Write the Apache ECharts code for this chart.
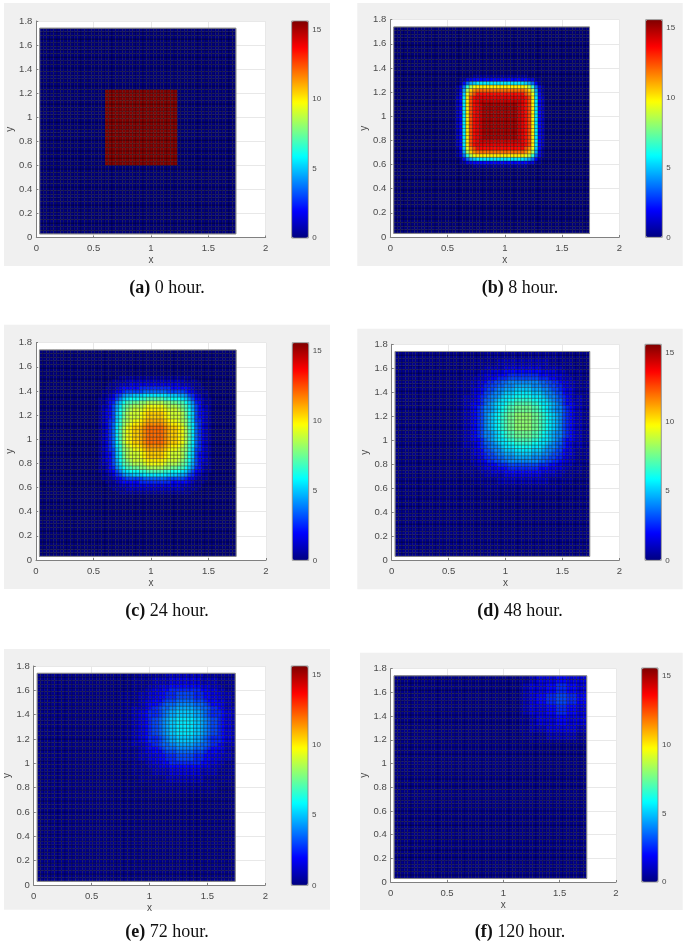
<!DOCTYPE html>
<html>
<head>
<meta charset="utf-8">
<script src="https://cdn.jsdelivr.net/npm/echarts@6/dist/echarts.min.js"></script>
<style>
html, body { margin: 0; padding: 0; background: #fff; }
#main { width: 685px; height: 943px; filter: blur(0.35px); }
</style>
</head>
<body>
<div id="main"></div>
<script>
// mesh: 57 x 57 cells, each 0.03 wide, starting at 0.03
var cellCount = 57;
var cellSize = 0.03;
var meshStart = 0.03;
var colorMax = 15.6;
var jetColors = ['#000080', '#0000ff', '#0080ff', '#00ffff', '#80ff80', '#ffff00', '#ff8000', '#ff0000', '#800000'];

var tags = ['(a)', '(b)', '(c)', '(d)', '(e)', '(f)'];
var hours = ['0 hour.', '8 hour.', '24 hour.', '48 hour.', '72 hour.', '120 hour.'];

// values. one char per cell, base 32, in half units (k = 10, v = 15.5)
// rows go bottom to top, everything outside a patch has the background value
var backgrounds = [0, 0, 0, 0.25, 0.25, 0.25];
var firstCols = [19, 18, 17, 18, 24, 37];
var firstRows = [19, 18, 17, 18, 24, 38];

var rowsA = [
  'vvvvvvvvvvvvvvvvvvvvv', 'vvvvvvvvvvvvvvvvvvvvv', 'vvvvvvvvvvvvvvvvvvvvv', 'vvvvvvvvvvvvvvvvvvvvv',
  'vvvvvvvvvvvvvvvvvvvvv', 'vvvvvvvvvvvvvvvvvvvvv', 'vvvvvvvvvvvvvvvvvvvvv', 'vvvvvvvvvvvvvvvvvvvvv',
  'vvvvvvvvvvvvvvvvvvvvv', 'vvvvvvvvvvvvvvvvvvvvv', 'vvvvvvvvvvvvvvvvvvvvv', 'vvvvvvvvvvvvvvvvvvvvv',
  'vvvvvvvvvvvvvvvvvvvvv', 'vvvvvvvvvvvvvvvvvvvvv', 'vvvvvvvvvvvvvvvvvvvvv', 'vvvvvvvvvvvvvvvvvvvvv',
  'vvvvvvvvvvvvvvvvvvvvv', 'vvvvvvvvvvvvvvvvvvvvv', 'vvvvvvvvvvvvvvvvvvvvv', 'vvvvvvvvvvvvvvvvvvvvv',
  'vvvvvvvvvvvvvvvvvvvvv'
];

var rowsB = [
  '00000111111111111111100000',
  '01133444444444444444433110',
  '01479abbbbbbbbbbbbbba97410',
  '137dhjkkkkkkkkkkkkkkjhd731',
  '139hlnoooooooooooooonlh931',
  '14ajnprrrrrrrrrrrrrrpnja41',
  '24bkprssssssssssssssrpkb42',
  '24bkprsttttttttttttsrpkb42',
  '24bkprstuuuuuuuuuutsrpkb42',
  '24bkprstuuuuuuuuuutsrpkb42',
  '24bkprstuuuuuuuuuutsrpkb42',
  '24bkprstuuuuuuuuuutsrpkb42',
  '24bkprstuuuuuuuuuutsrpkb42',
  '24bkprstuuuuuuuuuutsrpkb42',
  '24bkprstuuuuuuuuuutsrpkb42',
  '24bkprstuuuuuuuuuutsrpkb42',
  '24bkprstuuuuuuuuuutsrpkb42',
  '24bkprstuuuuuuuuuutsrpkb42',
  '24bkprsttttttttttttsrpkb42',
  '24bkprssssssssssssssrpkb42',
  '14ajnprrrrrrrrrrrrrrpnja41',
  '139hlnoooooooooooooonlh931',
  '137dhjkkkkkkkkkkkkkkjhd731',
  '01479abbbbbbbbbbbbbba97410',
  '01133444444444444444433110',
  '00000111111111111111100000'
];

var rowsC = [
  '000000111111111111111111111000000',
  '000011112222222222222222211110000',
  '000111222333333333333333222111000',
  '001112344444555555555444443211100',
  '011123456666677777776666654321110',
  '0112356899aaabbbbbbbaaa9986532110',
  '1123468abcccddeeeeeddcccba8643211',
  '112458aceeffgghhhhhggffeeca854211',
  '122469befghhhijjjjjihhhgfeb964221',
  '123469ceghiiijkkkkkjiiihgec964321',
  '12346acfhiiijklllllkjiiihfca64321',
  '12346acfhiiijklllllkjiiihfca64321',
  '12356adghijjklmmmmmlkjjihgda65321',
  '12357bdgijkklmnnnnnmlkkjigdb75321',
  '12357behjkllmnooooonmllkjheb75321',
  '12357behjkllmnooooonmllkjheb75321',
  '12357behjkllmnooooonmllkjheb75321',
  '12357behjkllmnooooonmllkjheb75321',
  '12357behjkllmnooooonmllkjheb75321',
  '12357bdgijkklmnnnnnmlkkjigdb75321',
  '12356adghijjklmmmmmlkjjihgda65321',
  '12346acfhiiijklllllkjiiihfca64321',
  '12346acfhiiijklllllkjiiihfca64321',
  '123469ceghiiijkkkkkjiiihgec964321',
  '122469befghhhijjjjjihhhgfeb964221',
  '112458aceeffgghhhhhggffeeca854211',
  '1123468abcccddeeeeeddcccba8643211',
  '0112356899aaabbbbbbbaaa9986532110',
  '011123456666677777776666654321110',
  '001112344444555555555444443211100',
  '000111222333333333333333222111000',
  '000011112222222222222222211110000',
  '000000111111111111111111111000000'
];

var rowsD = [
  '000000001111111111111111111111100000000',
  '000000001111111111111111111111100000000',
  '000001111111222222222222222111111100000',
  '000001111111222222222222222111111100000',
  '000011112222223333333333322222211110000',
  '001111122233334444444444433332221111100',
  '001111223333444555555555444333322111100',
  '001112223344555666666666555443322211100',
  '111122334556677888888888776655433221111',
  '111122335566778889999988877665533221111',
  '11112334566788999aaaaa99988766543321111',
  '11112334667889aaabbbbbaaa98876643321111',
  '1122234567889abbbcccccbbba9887654322211',
  '112223457789abbccdddddccbba987754322211',
  '11223445789abbcddeeeeeddcbba98754432211',
  '11223456889abcdeefffffeedcba98865432211',
  '11223456889abcdeefffffeedcba98865432211',
  '1122345689abcdeffgggggffedcba9865432211',
  '1122345689abcdeffgggggffedcba9865432211',
  '1122345689abcdeffgggggffedcba9865432211',
  '1122345689abcdeffgggggffedcba9865432211',
  '1122345689abcdeffgggggffedcba9865432211',
  '11223456889abcdeefffffeedcba98865432211',
  '11223456889abcdeefffffeedcba98865432211',
  '11223445789abbcddeeeeeddcbba98754432211',
  '112223457789abbccdddddccbba987754322211',
  '1122234567889abbbcccccbbba9887654322211',
  '11112334667889aaabbbbbaaa98876643321111',
  '11112334566788999aaaaa99988766543321111',
  '111122335566778889999988877665533221111',
  '111122334556677888888888776655433221111',
  '001112223344555666666666555443322211100',
  '001111223333444555555555444333322111100',
  '001111122233334444444444433332221111100',
  '000011112222223333333333322222211110000',
  '000001111111222222222222222111111100000',
  '000001111111222222222222222111111100000',
  '000000001111111111111111111111100000000',
  '000000001111111111111111111111100000000'
];

var rowsE = [
  '000000000111111111111111111100000',
  '000000000111111111111111111100000',
  '000000000111111111111111111100000',
  '000001111111122222222222111111110',
  '000001111111122222222222111111110',
  '000111111222223333333332222211111',
  '000111111222223333333332222211111',
  '000111112223334444444443332221111',
  '000111122333445555555554433322111',
  '111112223334455566666555443332221',
  '111112223334455566666555443332221',
  '111112233444566677777666544433221',
  '111112234445677788888777654443221',
  '111222234556778899999887765543222',
  '1112233455567899aaaaa998765554332',
  '1112233455567899aaaaa998765554332',
  '11122334566789aabbbbbaa9876654332',
  '11122334566789aabbbbbaa9876654332',
  '11122334566789aabbbbbaa9876654332',
  '11122334566789aabbbbbaa9876654332',
  '11122334566789aabbbbbaa9876654332',
  '1112233455567899aaaaa998765554332',
  '1112233455567899aaaaa998765554332',
  '111222234556778899999887765543222',
  '111112234445677788888777654443221',
  '111112233444566677777666544433221',
  '111112223334455566666555443332221',
  '111112223334455566666555443332221',
  '000111122333445555555554433322111',
  '000111112223334444444443332221111',
  '000111111222223333333332222211111',
  '000111111222223333333332222211111',
  '000001111111122222222222111111110'
];

var rowsF = [
  '00011111111111111111',
  '01111111222222222111',
  '01111111222222222111',
  '11122222333333333222',
  '11122222333333333222',
  '11122333333444333333',
  '11122333333444333333',
  '11122333333444333333',
  '12233333444555444333',
  '12233333444555444333',
  '12233333444555444333',
  '12233444555666555444',
  '12233444555666555444',
  '12233444555666555444',
  '12233333444555444333',
  '12233333444555444333',
  '12233333444555444333',
  '11122333333444333333',
  '11122333333444333333'
];

var allRows = [rowsA, rowsB, rowsC, rowsD, rowsE, rowsF];

// pixel layout of the six figures
var layouts = [
  { plot: [36.3, 21, 229.4, 216.5], bar: [291.7, 21, 16.6, 217], back: [4, 3, 326, 263], cap: [167, 287] },
  { plot: [390.3, 19.7, 229, 217.3], bar: [645.7, 19.7, 16.6, 217.6], back: [357.3, 3, 325.4, 263], cap: [520, 287] },
  { plot: [36, 342.7, 230, 217.3], bar: [292.3, 342.7, 16.4, 217.6], back: [4, 324.7, 326, 264.3], cap: [167, 610.7] },
  { plot: [391.7, 344.3, 227.6, 215.7], bar: [645, 344.3, 16.3, 216], back: [357.3, 328.7, 325.4, 260.6], cap: [520, 610] },
  { plot: [33.7, 666, 231.6, 219], bar: [291.3, 666, 16.7, 219.3], back: [4, 649, 326, 260.7], cap: [167, 931] },
  { plot: [390.7, 668.7, 225.3, 213.3], bar: [641.7, 668, 16.3, 214], back: [360, 652.7, 322.7, 257.3], cap: [520, 931] }
];

function buildCells(i) {
  var rows = allRows[i];
  var out = [];
  for (var r = 0; r < cellCount; r++) {
    var row = rows[r - firstRows[i]];
    for (var c = 0; c < cellCount; c++) {
      var val = backgrounds[i];
      var ch = row ? row[c - firstCols[i]] : undefined;
      if (ch !== undefined) {
        val = Math.max(val, parseInt(ch, 32) / 2);
      }
      out.push([meshStart + c * cellSize, meshStart + r * cellSize, val]);
    }
  }
  return out;
}

function renderCell(params, api) {
  var start = api.coord([api.value(0), api.value(1) + cellSize]);
  var size = api.size([cellSize, cellSize]);
  return {
    type: 'rect',
    shape: { x: start[0], y: start[1], width: size[0], height: size[1] },
    style: { fill: api.visual('color'), stroke: 'rgba(0,0,0,0.6)', lineWidth: 0.5 }
  };
}

function renderFrame(params, api) {
  var a = api.coord([api.value(0), api.value(1)]);
  var b = api.coord([api.value(2), api.value(3)]);
  return {
    type: 'rect',
    shape: { x: a[0], y: b[1], width: b[0] - a[0], height: a[1] - b[1] },
    style: { fill: 'none', stroke: '#8c8c8c', lineWidth: 1 }
  };
}

var meshEnd = meshStart + cellCount * cellSize;
var labelColor = '#4a4a4a';
var labelFont = 'Liberation Sans';

var grids = [], xAxes = [], yAxes = [], series = [], visualMaps = [], titles = [], backs = [];

layouts.forEach(function (lay, i) {
  backs.push({
    type: 'rect', z: -10, silent: true,
    shape: { x: lay.back[0], y: lay.back[1], width: lay.back[2], height: lay.back[3] },
    style: { fill: '#f0f0f0' }
  });

  // main plot
  grids.push({
    left: lay.plot[0], top: lay.plot[1], width: lay.plot[2], height: lay.plot[3],
    show: true, backgroundColor: '#fff', borderWidth: 0
  });
  xAxes.push({
    type: 'value', gridIndex: grids.length - 1, min: 0, max: 2, interval: 0.5,
    name: 'x', nameLocation: 'middle', nameGap: 18,
    nameTextStyle: { color: labelColor, fontFamily: labelFont, fontSize: 10 },
    axisLine: { onZero: false, lineStyle: { color: '#808080' } },
    axisTick: { inside: true, length: 2, lineStyle: { color: '#808080' } },
    axisLabel: { color: labelColor, fontFamily: labelFont, fontSize: 9.5, margin: 6 },
    splitLine: { show: true, lineStyle: { color: '#e8e8e8' } }
  });
  yAxes.push({
    type: 'value', gridIndex: grids.length - 1, min: 0, max: 1.8, interval: 0.2,
    name: 'y', nameLocation: 'middle', nameGap: 17,
    nameTextStyle: { color: labelColor, fontFamily: labelFont, fontSize: 10 },
    axisLine: { onZero: false, lineStyle: { color: '#808080' } },
    axisTick: { inside: true, length: 2, lineStyle: { color: '#808080' } },
    axisLabel: { color: labelColor, fontFamily: labelFont, fontSize: 9.5, margin: 4 },
    splitLine: { show: true, lineStyle: { color: '#e8e8e8' } }
  });

  series.push({
    type: 'custom', coordinateSystem: 'cartesian2d',
    xAxisIndex: xAxes.length - 1, yAxisIndex: yAxes.length - 1,
    encode: { x: 0, y: 1 }, renderItem: renderCell, data: buildCells(i),
    progressive: 0, silent: true, clip: true
  });

  visualMaps.push({
    type: 'continuous', min: 0, max: colorMax, seriesIndex: i, dimension: 2,
    inRange: { color: jetColors },
    left: lay.bar[0], top: lay.bar[1], itemWidth: lay.bar[2], itemHeight: lay.bar[3],
    padding: 0, calculable: false, showLabel: false, text: null, hoverLink: false, z: 1
  });
});

// the gray edge of each mesh comes after the six cell series, seriesIndex in visualMap stays 0-5
layouts.forEach(function (lay, i) {
  series.push({
    type: 'custom', coordinateSystem: 'cartesian2d',
    xAxisIndex: i, yAxisIndex: i,
    encode: { x: 0, y: 1 }, renderItem: renderFrame, silent: true,
    data: [[meshStart, meshStart, meshEnd, meshEnd]]
  });
});

// colorbar labels, sits on top of the visualMap bar
layouts.forEach(function (lay) {
  grids.push({
    left: lay.bar[0], top: lay.bar[1], width: lay.bar[2], height: lay.bar[3],
    show: true, backgroundColor: 'transparent', borderColor: '#808080', borderWidth: 0.8, z: 3
  });
  xAxes.push({
    type: 'value', gridIndex: grids.length - 1, min: 0, max: 1, show: false
  });
  yAxes.push({
    type: 'value', gridIndex: grids.length - 1, min: 0, max: colorMax, interval: 5, position: 'right', z: 4,
    axisLine: { show: false },
    axisTick: { show: false },
    axisLabel: { color: labelColor, fontFamily: labelFont, fontSize: 8, margin: 4, showMaxLabel: false },
    splitLine: { show: false }
  });
});

layouts.forEach(function (lay, i) {
  titles.push({
    text: '{b|' + tags[i] + '} ' + hours[i],
    left: lay.cap[0], top: lay.cap[1] - 8, textAlign: 'center', padding: 0,
    textStyle: {
      color: '#111', fontFamily: 'Liberation Serif', fontSize: 18, fontWeight: 'normal',
      rich: { b: { fontFamily: 'Liberation Serif', fontSize: 18, fontWeight: 'bold', color: '#111' } }
    }
  });
});

var myChart = echarts.init(document.getElementById('main'));
myChart.setOption({
  animation: false,
  backgroundColor: '#fff',
  title: titles,
  graphic: { elements: backs },
  grid: grids,
  xAxis: xAxes,
  yAxis: yAxes,
  visualMap: visualMaps,
  series: series
});
</script>
</body>
</html>
